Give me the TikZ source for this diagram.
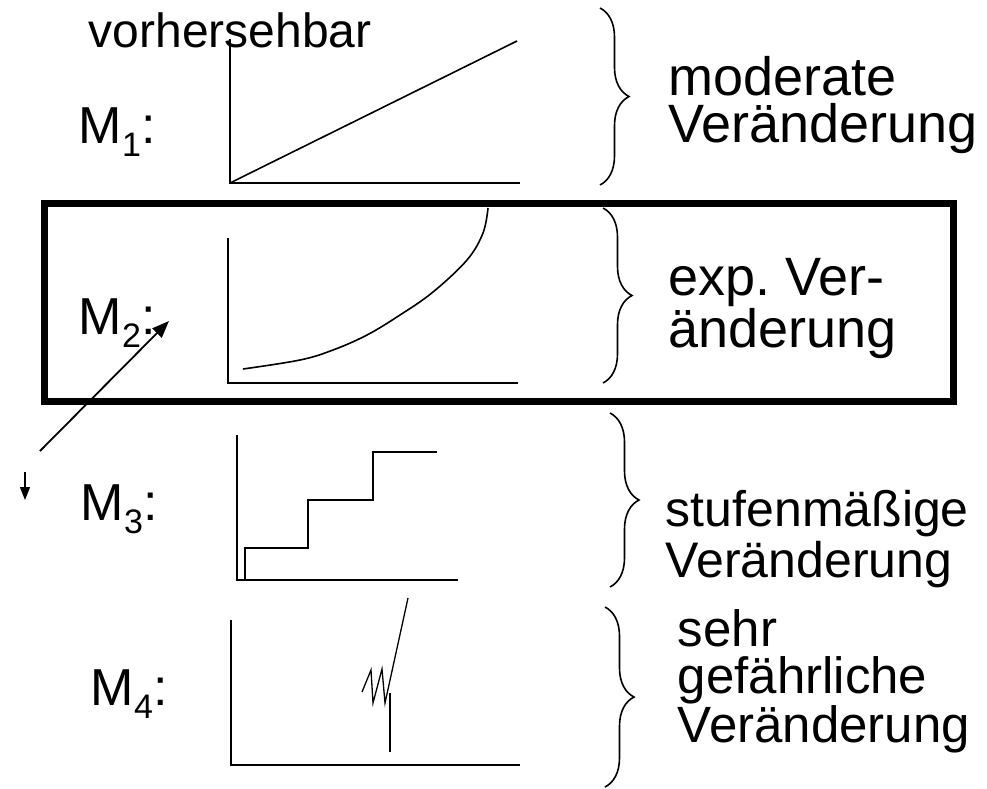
\documentclass[tikz,border=0pt]{standalone}
\usepackage{fontspec}
\setmainfont{Liberation Sans}
\usetikzlibrary{arrows.meta,decorations.pathreplacing}
\def\msub#1{M\raisebox{-13pt}{\fontsize{34}{34}\selectfont#1}:}

\begin{document}
\begin{tikzpicture}[x=1pt,y=-1pt,line width=1.6pt,
  txt/.style={anchor=base west,inner sep=0pt,align=left,font=\fontsize{54}{47}\selectfont},
  brc/.style={decorate,decoration={brace,amplitude=29pt}}]%<<<
\useasboundingbox (0,0) rectangle (987,788);
\node[txt,font=\fontsize{48}{48}\selectfont] (vh) at (88,47) {vorhersehbar};
\node[txt,font=\fontsize{52}{47}\selectfont] (m1) at (78,143) {\msub1};
\node[txt,font=\fontsize{52}{47}\selectfont] (m2) at (78,334) {\msub2};
\node[txt,font=\fontsize{52}{47}\selectfont] (m3) at (80,520) {\msub3};
\node[txt,font=\fontsize{52}{47}\selectfont] (m4) at (90,705) {\msub4};
\node[txt] (t1) at (668,142) {moderate\\Veränderung};
\node[txt] (t2) at (668,347) {exp.\ Ver-\\änderung};
\node[txt,font=\fontsize{50}{51}\selectfont] (t3) at (665,577) {stufenmäßige\\Veränderung};
\node[txt,font=\fontsize{51}{47}\selectfont] (t4) at (677,742) {sehr\\gefährliche\\Veränderung};
\draw (230,39) -- (230,183) -- (520,183);
\draw (230,183) -- (517,41);
\draw[line width=7pt] (44,203) rectangle (953,401);
\draw (228,238) -- (228,383) -- (518,383);
\draw plot[smooth,tension=0.6] coordinates {(243,369) (300,360) (333,350) (367,335)
  (400,315) (433,292) (467,260) (483,233) (488,208)};
\draw (237,435) -- (237,580) -- (458,580);
\draw (245,580) -- (245,548) -- (308,548) -- (308,500) -- (373,500) -- (373,452) -- (437,452);
\draw (231,620) -- (231,765) -- (520,765);
\draw[line width=1.3pt] (362,692) -- (371,670) -- (373,703) -- (382,669) -- (385,703) -- (408,598);
\draw (390,693) -- (390,752);
\draw[brc] (600,8) -- (600,185);
\draw[brc] (603,208) -- (603,383);
\draw[brc] (610,413) -- (610,587);
\draw[brc] (605,607) -- (605,787);
\coordinate (a0) at (40,451);
\coordinate (a1) at (169,321);
\draw[line width=1.8pt,-{Triangle[length=17pt,width=13pt]}] (a0) -- (a1);
\coordinate (d0) at (25,472);
\coordinate (d1) at (25,500);
\draw[line width=1.4pt,-{Triangle[length=13pt,width=10pt]}] (d0) -- (d1);
\end{tikzpicture}
\end{document}
